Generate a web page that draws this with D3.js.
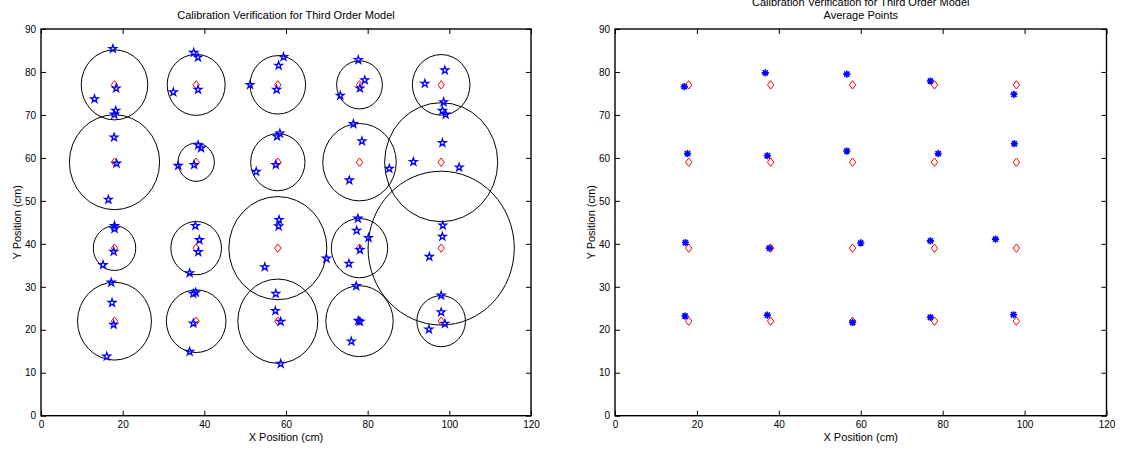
<!DOCTYPE html>
<html>
<head>
<meta charset="utf-8">
<script src="https://cdn.jsdelivr.net/npm/d3@7"></script>
<style>
  body { margin: 0; background: #fff; }
  svg text { font-family: "Liberation Sans", Arial, Helvetica, sans-serif; fill: #000; }
</style>
</head>
<body>
<svg id="chart" width="1121" height="450"></svg>
<script>
// Nominal calibration grid (cm)
const nominalX = [18, 38, 58, 78, 98];
const nominalY = [77, 59, 39, 22];

// Radius of the spread circle around each grid point, row by row (cm)
const radii = [
  8.15, 7.1, 6.8, 5.6, 7.05,
  11.05, 4.45, 6.65, 9.0, 13.85,
  5.2, 6.2, 12.0, 6.9, 17.9,
  9.05, 7.3, 9.8, 8.25, 5.95
];

// Individual measured positions (cm)
const measX = [
  17.6, 18.4, 13.1, 18.3, 17.95,
  37.4, 38.45, 32.4, 38.45,
  59.4, 58.2, 51.2, 57.7,
  77.7, 79.3, 78.1, 73.3,
  98.9, 94.0, 98.6, 98.3, 99.1,
  18.5, 16.5, 17.9,
  38.5, 39.2, 37.5, 33.6,
  58.5, 57.8, 57.5, 52.7,
  76.5, 78.6, 75.5, 85.3,
  98.3, 91.2, 102.4,
  18.0, 18.0, 17.8, 15.2,
  37.8, 38.8, 38.5, 36.4,
  58.3, 58.2, 54.8, 69.9,
  77.6, 77.3, 80.2, 78.1, 75.4,
  98.4, 98.3, 95.1,
  17.2, 17.4, 17.8, 16.1,
  37.3, 37.9, 37.3, 36.4,
  57.5, 57.4, 58.7, 58.7,
  77.2, 77.7, 78.1, 76.0,
  98.0, 98.0, 98.9, 95.0
];
const measY = [
  85.4, 76.2, 73.7, 71.0, 70.1,
  84.5, 83.4, 75.3, 75.9,
  83.5, 81.5, 77.0, 75.9,
  82.8, 78.1, 76.2, 74.5,
  80.4, 77.3, 73.0, 71.0, 70.1,
  58.7, 50.3, 64.8,
  62.95, 62.3, 58.4, 58.2,
  65.7, 65.0, 58.4, 56.8,
  67.9, 63.9, 54.8, 57.5,
  63.5, 59.1, 57.8,
  44.2, 43.5, 38.2, 35.1,
  44.2, 40.9, 38.1, 33.2,
  45.6, 44.1, 34.6, 36.6,
  45.9, 43.1, 41.4, 38.6, 35.4,
  44.3, 41.7, 37.0,
  31.0, 26.3, 21.2, 13.8,
  28.4, 28.7, 21.5, 14.9,
  28.4, 24.4, 21.9, 12.1,
  30.2, 22.1, 21.9, 17.3,
  28.0, 24.1, 21.4, 20.1
];

// Average measured position for each grid point, row by row (cm)
const avgX = [
  16.9, 36.7, 56.6, 77.0, 97.4,
  17.7, 37.2, 56.6, 78.9, 97.5,
  17.2, 37.7, 60.0, 77.0, 92.9,
  17.1, 37.2, 58.0, 77.0, 97.3
];
const avgY = [
  76.6, 79.8, 79.5, 77.9, 74.8,
  61.0, 60.5, 61.6, 61.0, 63.3,
  40.3, 39.0, 40.2, 40.7, 41.1,
  23.2, 23.4, 21.7, 22.9, 23.5
];

const xTicks = [0, 20, 40, 60, 80, 100, 120];
const yTicks = [0, 10, 20, 30, 40, 50, 60, 70, 80, 90];
const titleMain = "Calibration Verification for Third Order Model";

// grid points expanded row by row
const gridPts = [];
nominalY.forEach(y => nominalX.forEach(x => gridPts.push([x, y])));

const svg = d3.select("#chart");
const plotTop = 29, plotBottom = 415.7;

function panel(left, right, titleLines) {
  const x = d3.scaleLinear().domain([0, 120]).range([left, right]);
  const y = d3.scaleLinear().domain([0, 90]).range([plotBottom, plotTop]);
  const g = svg.append("g");

  g.append("g").attr("transform", `translate(0,${plotBottom})`)
    .call(d3.axisBottom(x).tickValues(xTicks).tickSize(-5).tickPadding(5).tickSizeOuter(0))
    .call(a => a.select(".domain").remove())
    .call(a => a.selectAll("text").attr("font-size", 10).attr("fill", "#000"));
  g.append("g").attr("transform", `translate(0,${plotTop})`)
    .call(d3.axisTop(x).tickValues(xTicks).tickSize(-5).tickFormat("").tickSizeOuter(0))
    .call(a => a.select(".domain").remove());
  g.append("g").attr("transform", `translate(${left},0)`)
    .call(d3.axisLeft(y).tickValues(yTicks).tickSize(-5).tickPadding(5).tickSizeOuter(0))
    .call(a => a.select(".domain").remove())
    .call(a => a.selectAll("text").attr("font-size", 10).attr("fill", "#000"));
  g.append("g").attr("transform", `translate(${right},0)`)
    .call(d3.axisRight(y).tickValues(yTicks).tickSize(-5).tickFormat("").tickSizeOuter(0))
    .call(a => a.select(".domain").remove());
  g.selectAll(".tick line").attr("stroke", "#000");

  g.append("rect")
    .attr("x", left).attr("y", plotTop)
    .attr("width", right - left).attr("height", plotBottom - plotTop)
    .attr("fill", "none").attr("stroke", "#000").attr("stroke-width", 1.4);

  const cx = (left + right) / 2;
  g.append("text").attr("x", cx).attr("y", 441)
    .attr("text-anchor", "middle").attr("font-size", 11).text("X Position (cm)");
  g.append("text")
    .attr("transform", `translate(${left - 20},${(plotTop + plotBottom) / 2}) rotate(-90)`)
    .attr("text-anchor", "middle").attr("font-size", 11).text("Y Position (cm)");
  titleLines.forEach((t, i) => {
    g.append("text").attr("x", cx).attr("y", 19 - (titleLines.length - 1 - i) * 13)
      .attr("text-anchor", "middle").attr("font-size", 11).text(t);
  });

  const plot = g.append("g");
  return { x, y, plot };
}

const diamond = "M0,-4.2L3.2,0L0,4.2L-3.2,0Z";
const asterisk = "M-3.6,0H3.6M0,-3.6V3.6M-2.6,-2.6L2.6,2.6M-2.6,2.6L2.6,-2.6";
const star = d3.symbol().type(d3.symbolStar).size(18)();

// Left: every measurement with its spread circle
const L = panel(41, 531, [titleMain]);
L.plot.selectAll("ellipse").data(gridPts).join("ellipse")
  .attr("cx", d => L.x(d[0])).attr("cy", d => L.y(d[1]))
  .attr("rx", (d, i) => L.x(radii[i]) - L.x(0))
  .attr("ry", (d, i) => L.y(0) - L.y(radii[i]))
  .attr("fill", "none").attr("stroke", "#000").attr("stroke-width", 1);
L.plot.selectAll("path.nom").data(gridPts).join("path").attr("class", "nom")
  .attr("d", diamond)
  .attr("transform", d => `translate(${L.x(d[0])},${L.y(d[1])})`)
  .attr("fill", "none").attr("stroke", "#ff0000").attr("stroke-width", 1);
L.plot.selectAll("path.meas").data(measX.map((v, i) => [v, measY[i]])).join("path").attr("class", "meas")
  .attr("d", star)
  .attr("transform", d => `translate(${L.x(d[0])},${L.y(d[1])})`)
  .attr("fill", "none").attr("stroke", "#0000ff").attr("stroke-width", 1.3);

// Right: averaged measurement per grid point
const R = panel(615, 1106.5, [titleMain, "Average Points"]);
R.plot.selectAll("path.nom").data(gridPts).join("path").attr("class", "nom")
  .attr("d", diamond)
  .attr("transform", d => `translate(${R.x(d[0])},${R.y(d[1])})`)
  .attr("fill", "none").attr("stroke", "#ff0000").attr("stroke-width", 1);
R.plot.selectAll("path.avg").data(avgX.map((v, i) => [v, avgY[i]])).join("path").attr("class", "avg")
  .attr("d", asterisk)
  .attr("transform", d => `translate(${R.x(d[0])},${R.y(d[1])})`)
  .attr("fill", "none").attr("stroke", "#0000ff").attr("stroke-width", 1.6);
</script>
</body>
</html>
